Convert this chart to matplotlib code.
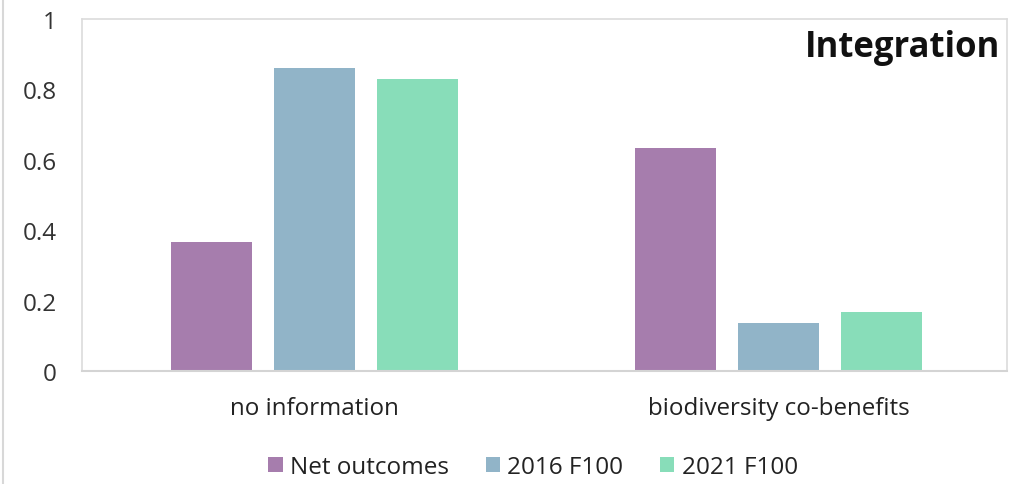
import matplotlib
matplotlib.use("Agg")
import matplotlib.pyplot as plt
from matplotlib.lines import Line2D
import numpy as np

categories = ["no information", "biodiversity co-benefits"]
series_names = ["Net outcomes", "2016 F100", "2021 F100"]
net_outcomes = [0.366, 0.634]
f100_2016 = [0.861, 0.136]
f100_2021 = [0.830, 0.168]
y_ticks = [0, 0.2, 0.4, 0.6, 0.8, 1]
y_tick_labels = ["0", "0.2", "0.4", "0.6", "0.8", "1"]
title = "Integration"

colors = ["#a67dad", "#91b4c8", "#88ddb9"]
plt.rcParams["font.family"] = ["Open Sans", "DejaVu Sans"]

fig = plt.figure(figsize=(10.10, 4.85), dpi=100)
ax = fig.add_axes([82 / 1010, 1 - 372 / 485, 925 / 1010, 352 / 485])

x = np.arange(len(categories))
width = 0.1744
step = 0.2217
for i, (vals, name) in enumerate(zip([net_outcomes, f100_2016, f100_2021], series_names)):
    ax.bar(x + (i - 1) * step, vals, width, color=colors[i], label=name, zorder=2)

ax.set_xlim(-0.5005, 1.491)
ax.set_ylim(0, 1)
ax.set_yticks(y_ticks)
ax.set_yticklabels(y_tick_labels, fontsize=17.5, color="#333333")
ax.set_xticks(x)
ax.set_xticklabels(categories, fontsize=17.4, color="#222222")
ax.tick_params(axis="both", length=0)
ax.tick_params(axis="y", pad=18)
ax.tick_params(axis="x", pad=18)

for side in ["top", "right", "left"]:
    ax.spines[side].set_color("#dcdcdc")
    ax.spines[side].set_linewidth(1.2)
ax.spines["bottom"].set_color("#d4d4d4")
ax.spines["bottom"].set_linewidth(1.5)

ax.text(0.993, 0.895, title, transform=ax.transAxes, ha="right", va="baseline",
        fontsize=25, fontweight="bold", color="#111111")

leg = fig.legend(loc="center", bbox_to_anchor=(533 / 1010, 1 - 468 / 485), ncol=3,
                 frameon=False, fontsize=17.5, handlelength=0.6, handleheight=0.6,
                 handletextpad=0.3, columnspacing=1.5)
for t in leg.get_texts():
    t.set_color("#222222")

fig.add_artist(Line2D([3 / 1010, 3 / 1010], [0, 1], transform=fig.transFigure,
                      color="#d8d8d8", linewidth=1.5))

fig.savefig("out.png", dpi=100, facecolor="white")
